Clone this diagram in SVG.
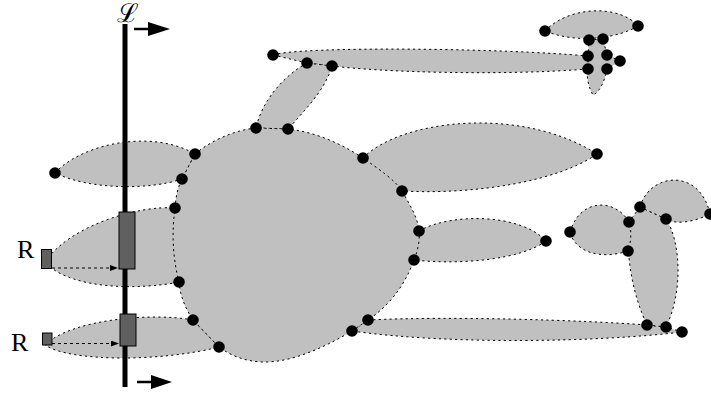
<svg xmlns="http://www.w3.org/2000/svg" width="711" height="395" viewBox="0 0 711 395">
<style>
.b{fill:#c0c0c0;stroke:#000;stroke-width:1;stroke-dasharray:2.2 3.2}
.d{fill:#000}
.r{fill:#606060;stroke:#000;stroke-width:1}
.t{font-family:"Liberation Serif","DejaVu Serif",serif;font-size:26px;fill:#000}
</style>
<defs>
<marker id="ah" markerWidth="8" markerHeight="6" refX="7" refY="3" orient="auto" markerUnits="userSpaceOnUse"><path d="M0,0 L8,3 L0,6 Z" fill="#000"/></marker>
</defs>
<rect width="711" height="395" fill="#fff"/>
<g id="blobs">
<path id="b1" class="b" d="M55,173 C80,145 150,128 195,154 L182,179 C150,190 90,190 55,173 Z"/>
<path id="b2" class="b" d="M45,262 C70,225 140,205 175,208 L179,282 C140,290 70,290 45,262 Z"/>
<path id="b3" class="b" d="M45,345 C70,320 150,312 193,320 L219,347 C160,362 70,362 45,345 Z"/>
<path id="b4" class="b" d="M273,55 C300,46 500,48 588,56 L588,69 C500,76 380,72 332,66 L307,63 Z"/>
<path id="b5" class="b" d="M307,63 C285,75 262,100 256,128 L288,129 C305,110 325,90 332,66 Z"/>
<path id="b6" class="b" d="M545,31 C570,5 620,5 638,26 C620,37 580,45 545,31 Z"/>
<path id="b7" class="b" d="M589,40 L603,39 L607,55 L620,61 L607,69 C605,80 600,92 593,95 C589,88 586,78 588,69 L588,56 Z"/>
<path id="b8" class="b" d="M363,158 C400,120 520,105 597,154 C560,180 480,195 402,191 Z"/>
<path id="b9" class="b" d="M419,231 C450,213 520,213 546,241 C520,260 460,265 414,260 Z"/>
<path id="b10" class="b" d="M368,320 C450,316 580,320 647,325 L666,327 L682,332 C600,342 450,345 352,331 Z"/>
<path id="b13" class="b" d="M640,207 L666,219 C680,240 684,290 666,327 L647,325 C635,300 625,260 629,222 Z"/>
<path id="b11" class="b" d="M570,232 C580,198 615,198 629,222 C632,232 631,242 628,251 C600,260 575,252 570,232 Z"/>
<path id="b12" class="b" d="M640,207 C650,172 700,168 710,214 C695,222 675,225 666,219 Z"/>
<path id="core" class="b" d="M195,154 C212,140 235,130 256,128 L288,129 C315,132 340,143 363,158 C380,170 395,180 402,191 C410,205 418,218 419,231 C420,240 418,250 414,260 C405,285 390,305 368,320 L352,331 C320,350 290,362 265,362 C245,362 230,355 219,347 L193,320 C185,308 180,295 179,282 C172,255 172,230 175,208 C176,195 178,187 182,179 Z"/>
</g>
<g id="line">
<rect x="122.5" y="24" width="5" height="363" fill="#000"/>
<rect class="r" x="119" y="212" width="16" height="57"/>
<rect class="r" x="120" y="314" width="16" height="32"/>
</g>
<g id="sources">
<rect class="r" x="41.5" y="249.5" width="10" height="19"/>
<rect class="r" x="42.5" y="333" width="9.5" height="12"/>
<text class="t" x="17" y="258">R</text>
<text class="t" x="11" y="351">R</text>
<text class="t" x="117" y="22" font-family="DejaVu Serif, serif">ℒ</text>
</g>
<g id="connectors">
<line x1="52" y1="268" x2="117" y2="268" stroke="#000" stroke-width="1" stroke-dasharray="3 3" marker-end="url(#ah)"/>
<line x1="52" y1="343.5" x2="118" y2="343.5" stroke="#000" stroke-width="1" stroke-dasharray="3 3" marker-end="url(#ah)"/>
<line x1="134" y1="29" x2="150" y2="29" stroke="#000" stroke-width="2.5"/>
<path d="M148,22 L170,29 L148,36 Z" fill="#000"/>
<line x1="137" y1="382" x2="153" y2="382" stroke="#000" stroke-width="2.5"/>
<path d="M151,375 L172,382 L151,389 Z" fill="#000"/>
</g>
<g id="dots" class="d">
<circle cx="55" cy="173" r="5.8"/>
<circle cx="195" cy="154" r="5.8"/>
<circle cx="182" cy="179" r="5.8"/>
<circle cx="256" cy="128" r="5.8"/>
<circle cx="288" cy="129" r="5.8"/>
<circle cx="273" cy="55" r="5.8"/>
<circle cx="307" cy="63" r="5.8"/>
<circle cx="332" cy="66" r="5.8"/>
<circle cx="363" cy="158" r="5.8"/>
<circle cx="402" cy="191" r="5.8"/>
<circle cx="597" cy="154" r="5.8"/>
<circle cx="545" cy="31" r="5.8"/>
<circle cx="638" cy="26" r="5.8"/>
<circle cx="589" cy="40" r="5.8"/>
<circle cx="603" cy="39" r="5.8"/>
<circle cx="588" cy="56" r="5.8"/>
<circle cx="607" cy="55" r="5.8"/>
<circle cx="620" cy="61" r="5.8"/>
<circle cx="588" cy="69" r="5.8"/>
<circle cx="607" cy="69" r="5.8"/>
<circle cx="175" cy="208" r="5.8"/>
<circle cx="179" cy="282" r="5.8"/>
<circle cx="193" cy="320" r="5.8"/>
<circle cx="219" cy="347" r="5.8"/>
<circle cx="419" cy="231" r="5.8"/>
<circle cx="414" cy="260" r="5.8"/>
<circle cx="368" cy="320" r="5.8"/>
<circle cx="352" cy="331" r="5.8"/>
<circle cx="546" cy="241" r="5.8"/>
<circle cx="570" cy="232" r="5.8"/>
<circle cx="629" cy="222" r="5.8"/>
<circle cx="640" cy="207" r="5.8"/>
<circle cx="666" cy="219" r="5.8"/>
<circle cx="710" cy="214" r="5.8"/>
<circle cx="628" cy="251" r="5.8"/>
<circle cx="647" cy="325" r="5.8"/>
<circle cx="666" cy="327" r="5.8"/>
<circle cx="682" cy="332" r="5.8"/>
</g>
</svg>
